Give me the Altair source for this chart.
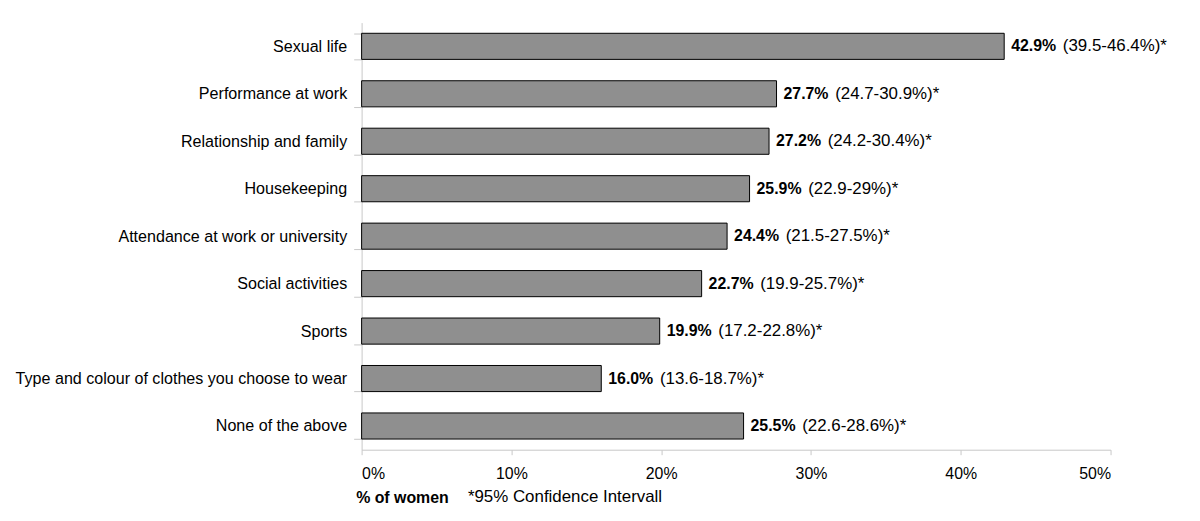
import altair as alt
import pandas as pd

categories = [
    "Sexual life",
    "Performance at work ",
    "Relationship and family",
    "Housekeeping",
    "Attendance at work or university",
    "Social activities ",
    "Sports",
    "Type and colour of clothes you choose to wear",
    "None of the above",
]
values = [42.9, 27.7, 27.2, 25.9, 24.4, 22.7, 19.9, 16.0, 25.5]
ci_labels = [
    "(39.5-46.4%)*",
    "(24.7-30.9%)*",
    "(24.2-30.4%)*",
    "(22.9-29%)*",
    "(21.5-27.5%)*",
    "(19.9-25.7%)*",
    "(17.2-22.8%)*",
    "(13.6-18.7%)*",
    "(22.6-28.6%)*",
]
x_ticks = [0, 10, 20, 30, 40, 50]

df = pd.DataFrame({
    "category": categories,
    "value": values,
    "vlabel": [f"{v:.1f}%" for v in values],
    "ci": ci_labels,
})

FONT = "Liberation Sans"
AXIS_GRAY = "#c8c8c8"

y_enc = alt.Y(
    "category:N",
    sort=categories,
    scale=alt.Scale(paddingInner=0.45, paddingOuter=0.225),
    axis=alt.Axis(
        title=None,
        domainColor=AXIS_GRAY,
        tickColor=AXIS_GRAY,
        tickSize=8,
        tickBand="extent",
        labelFont=FONT,
        labelFontSize=16.2,
        labelColor="black",
        labelPadding=7,
        labelLimit=400,
    ),
)
x_enc = alt.X(
    "value:Q",
    scale=alt.Scale(domain=[0, 50], nice=False),
    axis=alt.Axis(
        values=x_ticks,
        labelExpr="datum.value + '%'",
        grid=False,
        domainColor=AXIS_GRAY,
        tickColor=AXIS_GRAY,
        tickSize=5,
        labelFont=FONT,
        labelFontSize=16,
        labelColor="black",
        labelPadding=11,
        title="% of women",
        titleFont=FONT,
        titleFontSize=16,
        titleFontWeight="bold",
        titleColor="black",
        titleAnchor="start",
        titleAlign="left",
        titleBaseline="middle",
        titleX=-6,
        titleY=48,
    ),
)

base = alt.Chart(df)
bars = base.mark_bar(fill="#8f8f8f", stroke="black", strokeWidth=1).encode(x=x_enc, y=y_enc)
vtext = base.mark_text(
    align="left", baseline="middle", dx=7, font=FONT, fontSize=16, fontWeight="bold", color="black"
).encode(x="value:Q", y=alt.Y("category:N", sort=categories), text="vlabel:N")
citext = base.mark_text(
    align="left", baseline="middle", dx=59, font=FONT, fontSize=17, color="black"
).encode(x="value:Q", y=alt.Y("category:N", sort=categories), text="ci:N")

note = alt.Chart(pd.DataFrame({"t": ["*95% Confidence Intervall"]})).mark_text(
    align="left", baseline="middle", font=FONT, fontSize=17, color="black"
).encode(x=alt.value(107), y=alt.value(478), text="t:N")

chart = alt.layer(bars, vtext, citext, note).properties(
    width=754,
    height=430,
    autosize=alt.AutoSizeParams(type="none"),
    padding={"left": 356, "top": 13, "right": 82, "bottom": 62},
    background="white",
).configure_view(stroke=None)

chart.save("out.html", embed_options={"renderer": "svg", "actions": False})
